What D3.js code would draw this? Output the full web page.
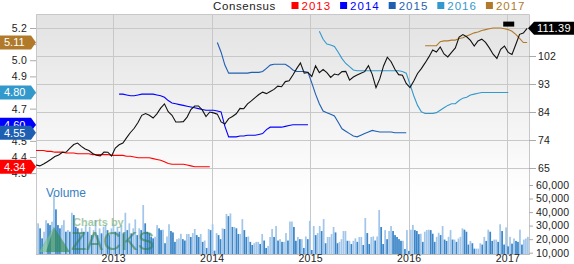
<!DOCTYPE html>
<html>
<head>
<meta charset="utf-8">
<script src="https://cdn.jsdelivr.net/npm/d3@7/dist/d3.min.js"></script>
<style>
  body { margin: 0; background: #fff; }
  svg text { font-family: "Liberation Sans", Arial, sans-serif; }
  .tick text { fill: #222; }
</style>
</head>
<body>
<div id="chart"></div>
<script>
// price + consensus EPS chart (5 years, biweekly samples)

// ---- data ----
var startDate = new Date(2012, 2, 21);
var endDate = new Date(2017, 2, 22);

// closing price, one value every two weeks from startDate
const price = [
  66.0, 65.7, 66.3, 67.1, 67.9, 68.8, 69.3, 70.2, 70.3, 71.6,
  72.8, 73.3, 72.2, 71.3, 70.8, 69.8, 69.25, 69.05, 70.3, 70.25,
  69.0, 71.6, 72.7, 73.3, 75.1, 76.8, 78.2, 80.1, 82.5, 83.1,
  82.5, 81.6, 83.0, 84.9, 86.3, 83.7, 82.5, 80.3, 80.3, 80.4,
  81.9, 84.4, 85.6, 85.6, 84.3, 82.1, 83.6, 83.3, 82.9, 80.3,
  79.6, 81.4, 82.1, 83.0, 84.8, 84.7, 86.3, 87.3, 88.4, 89.4,
  90.2, 89.7, 90.4, 91.1, 92.2, 92.0, 93.7, 94.0, 95.9, 98.0,
  99.9, 96.5, 96.7, 95.4, 98.9, 96.7, 97.7, 96.7, 95.1, 96.2,
  95.9, 97.0, 97.1, 94.2, 95.2, 95.9, 96.5, 97.0, 99.0, 96.1,
  91.7, 94.6, 98.9, 101.8, 100.3, 97.8, 96.0, 95.8, 93.1, 91.7,
  93.9, 96.4, 98.0, 99.9, 101.9, 104.2, 103.5, 105.2, 102.9, 101.9,
  103.4, 104.9, 108.5, 109.3, 108.6, 107.4, 105.5, 107.2, 107.8, 106.7,
  104.9, 102.8, 101.4, 104.4, 105.5, 103.4, 102.7, 106.0, 109.4, 109.8,
  111.39
];

// consensus EPS per fiscal year (same biweekly grid, starting at index *Start)
const eps2013Start = 0;
const eps2013 = [4.44, 4.44, 4.44, 4.435, 4.435, 4.43, 4.43, 4.43, 4.425, 4.425,
  4.425, 4.42, 4.42, 4.42, 4.42, 4.415, 4.415, 4.415, 4.415, 4.415,
  4.41, 4.41, 4.41, 4.41, 4.405, 4.405, 4.40, 4.395, 4.395, 4.395,
  4.395, 4.39, 4.385, 4.38, 4.37, 4.36, 4.355, 4.355, 4.355, 4.355,
  4.35, 4.345, 4.34, 4.34, 4.34, 4.34, 4.34];
const eps2014Start = 22;
const eps2014 = [4.79, 4.79, 4.785, 4.78, 4.78, 4.785, 4.79, 4.79, 4.79, 4.79,
  4.785, 4.78, 4.77, 4.75, 4.735, 4.73, 4.725, 4.72, 4.715, 4.71,
  4.705, 4.70, 4.695, 4.69, 4.69, 4.69, 4.685, 4.68, 4.59, 4.525,
  4.525, 4.525, 4.53, 4.53, 4.535, 4.535, 4.535, 4.54, 4.545, 4.57,
  4.585, 4.585, 4.585, 4.585, 4.59, 4.595, 4.60, 4.60, 4.60, 4.60, 4.60];
const eps2015Start = 48;
const eps2015 = [5.11, 5.05, 4.97, 4.92, 4.92, 4.92, 4.92, 4.92, 4.92, 4.925,
  4.925, 4.925, 4.93, 4.95, 4.97, 4.975, 4.975, 4.975, 4.975, 4.96,
  4.94, 4.93, 4.93, 4.93, 4.925, 4.86, 4.79, 4.73, 4.685, 4.675,
  4.665, 4.655, 4.615, 4.575, 4.56, 4.545, 4.53, 4.525, 4.535, 4.545,
  4.555, 4.565, 4.56, 4.555, 4.555, 4.555, 4.555, 4.55, 4.55, 4.55, 4.55];
const eps2016Start = 75;
const eps2016 = [5.18, 5.13, 5.10, 5.095, 5.085, 5.05, 5.01, 4.98, 4.96, 4.94,
  4.935, 4.935, 4.935, 4.935, 4.935, 4.935, 4.935, 4.935, 4.935, 4.935,
  4.935, 4.935, 4.93, 4.92, 4.85, 4.78, 4.72, 4.68, 4.67, 4.67,
  4.67, 4.675, 4.69, 4.705, 4.72, 4.73, 4.73, 4.75, 4.765, 4.77,
  4.785, 4.79, 4.795, 4.80, 4.80, 4.80, 4.80, 4.80, 4.80, 4.80, 4.80];
const eps2017Start = 103;
const eps2017 = [5.09, 5.09, 5.09, 5.09, 5.115, 5.12, 5.12, 5.125, 5.125, 5.135,
  5.14, 5.15, 5.16, 5.17, 5.175, 5.185, 5.19, 5.195, 5.20, 5.20,
  5.20, 5.195, 5.19, 5.18, 5.16, 5.135, 5.11, 5.11];

// weekly volume
const volume = [
  31700, 28000, 20600, 25500, 34000, 31700, 30400, 32900, 52600, 42000,
  30400, 28000, 30400, 34000, 25500, 26700, 25500, 39500, 37800, 29200,
  28000, 24300, 28000, 25500, 30400, 25500, 29200, 23000, 26700, 34000,
  23000, 28000, 24300, 29200, 30400, 26700, 23000, 28000, 31700, 25500,
  29200, 25500, 30400, 24300, 39500, 26700, 31700, 24300, 28000, 34600,
  23000, 28000, 26700, 45200, 31700, 25500, 24300, 21800, 20600, 21800,
  30400, 28000, 26700,
  27000, 17000, 22000, 31000, 26000, 25000, 18000, 20000, 20600, 24000,
  20000, 19000, 23800, 23800, 21600, 24500, 27500, 23000, 21600, 23800,
  18000, 19000, 13500, 27500, 26700, 31000, 11500, 24500, 23000, 20000,
  28000, 27500, 38600, 37000, 39000, 29000, 29000, 28000, 23800, 23800,
  34800, 26700, 21600, 22000, 18000, 15700, 17000, 18000, 18000, 16400,
  23800, 19000, 13500, 15000, 21600, 27500, 21600, 29700, 19000, 20000,
  18000, 18000, 24500,
  19000, 33000, 33000, 29000, 18800, 21600, 20000, 20000, 13500, 22000,
  20000, 33500, 12000, 29700, 23000, 24500, 29700, 26000, 34800, 17000,
  21600, 21600, 23800, 29000, 25000, 17000, 18000, 20000, 26000, 26000,
  18800, 18800, 16400, 18800, 20600, 18000, 21600, 21600, 15700, 35600,
  24500, 16400, 21600, 22000, 19000, 22000, 41500, 29000, 16400, 26700,
  20000, 26000, 29700, 26000, 23000, 21600, 20000, 18800, 18800, 12700,
  26700, 11300,
  27000, 30500, 26700, 26000, 23700, 24000, 18000, 25500, 26700, 27000,
  26700, 24000, 18000, 21700, 24700, 23000, 29700, 19700, 18700, 21700,
  26700, 19700, 19700, 18000, 20500, 21700, 28000, 27000, 25500, 16000,
  18700, 17000, 13000, 13000, 13000, 17000, 16000, 21700, 18700, 27000,
  25500, 18700, 19700, 19700, 18000, 31000, 26000, 16000, 28700, 14700,
  21700, 16700, 20500, 18700, 18000, 27000, 16000, 19700, 20500, 21700
];

const seriesNames = ["2013", "2014", "2015", "2016", "2017"];
const priceGrid = [65, 74.3, 83.6, 92.9, 102.2, 111.5];
const priceTicks = [65, 74.3, 83.6, 92.9, 102.2];   // top one sits under the price tag
const epsTicks = [4.3, 4.4, 4.5, 4.6, 4.7, 4.8, 4.9, 5.0, 5.1, 5.2];
const volumeTicks = [10000, 20000, 30000, 40000, 50000, 60000];
const eventMarks = [{ date: new Date(2017, 0, 4), price: 112.8 }];

// ---- layout ----
var customColors = {
  "2013": "#ff0000",
  "2014": "#0000ff",
  "2015": "#1f5fb2",
  "2016": "#3399cc",
  "2017": "#b07a2a"
};

const width = 574, height = 264;
var plot = { left: 36, right: 529, top: 14, bottom: 254 };

const svg = d3.select("#chart")
  .append("svg")
  .attr("width", width)
  .attr("height", height);

var x = d3.scaleTime().domain([startDate, endDate]).range([plot.left, plot.right]);
var yPrice = d3.scaleLinear().domain([65, 111.5]).range([168, 28]);
var yEps = d3.scaleLinear().domain([4.4, 5.2]).range([157, 28]);
var yVol = d3.scaleLinear().domain([10000, 60000]).range([252.7, 185]);

function gridDate(i) { return d3.timeDay.offset(startDate, 14 * i); }

// background gradient
var defs = svg.append("defs");
var grad = defs.append("linearGradient")
  .attr("id", "bg").attr("x1", 0).attr("y1", 0).attr("x2", 0).attr("y2", 1);
grad.append("stop").attr("offset", "0%").attr("stop-color", "#e2e2e2");
grad.append("stop").attr("offset", "75%").attr("stop-color", "#ffffff");

svg.append("rect")
  .attr("x", plot.left).attr("y", plot.top)
  .attr("width", plot.right - plot.left)
  .attr("height", plot.bottom - plot.top)
  .style("fill", "url(#bg)");

// grid lines
svg.append("g")
  .selectAll("line")
  .data(priceGrid)
  .enter().append("line")
    .attr("x1", plot.left).attr("x2", plot.right + 7)
    .attr("y1", d => Math.round(yPrice(d)) + 0.5)
    .attr("y2", d => Math.round(yPrice(d)) + 0.5)
    .style("stroke", "#c8c8c8");

svg.append("g")
  .selectAll("line")
  .data(x.ticks(d3.timeYear))
  .enter().append("line")
    .attr("x1", d => Math.round(x(d)) + 0.5)
    .attr("x2", d => Math.round(x(d)) + 0.5)
    .attr("y1", plot.top).attr("y2", plot.bottom)
    .style("stroke", "#c8c8c8");

// frame
svg.append("path")
  .attr("d", "M" + (plot.left + 0.5) + "," + plot.bottom + "V" + (plot.top + 0.5) +
    "H" + (plot.right + 0.5) + "V" + plot.bottom)
  .style("fill", "none")
  .style("stroke", "#c8c8c8");
svg.append("line")
  .attr("x1", plot.left).attr("x2", plot.right + 1)
  .attr("y1", plot.bottom + 0.5).attr("y2", plot.bottom + 0.5)
  .style("stroke", "#bdbdbd");

// volume bars
var xBand = d3.scaleBand()
  .domain(d3.range(volume.length))
  .range([plot.left + 1, plot.right])
  .padding(0.12);

svg.append("g")
  .selectAll("rect")
  .data(volume)
  .enter().append("rect")
    .attr("x", (d, i) => xBand(i))
    .attr("width", xBand.bandwidth())
    .attr("y", d => yVol(d))
    .attr("height", d => plot.bottom - yVol(d))
    .style("fill", (d, i) => (i > 0 && d < volume[i - 1]) ? "#3c86c8" : "#a3c7ea");

svg.append("text")
  .attr("x", 46).attr("y", 197)
  .style("font-size", "12px")
  .style("fill", "#3a7fc1")
  .text("Volume");

// watermark
var wm = svg.append("g").style("opacity", 0.6);
wm.append("path")
  .attr("d", "M54,227 L39,252 L70,252 Z")
  .style("fill", "#2e8b4a");
wm.append("path")
  .attr("d", "M54,227 L46,252 L39,252 Z")
  .style("fill", "#7cc48a");
wm.append("text")
  .attr("x", 73).attr("y", 226)
  .style("font-size", "11px")
  .style("font-weight", "bold")
  .style("fill", "#6aa86e")
  .text("Charts by");
wm.append("text")
  .attr("x", 71).attr("y", 250)
  .style("font-size", "25px")
  .style("fill", "#2f7f4f")
  .text("ZACKS");

// consensus lines
var epsLine = d3.line()
  .x(d => x(d.date))
  .y(d => yEps(d.value));

var epsSeries = [
  { name: "2013", start: eps2013Start, values: eps2013 },
  { name: "2014", start: eps2014Start, values: eps2014 },
  { name: "2015", start: eps2015Start, values: eps2015 },
  { name: "2016", start: eps2016Start, values: eps2016 },
  { name: "2017", start: eps2017Start, values: eps2017 }
];
epsSeries.forEach(function(s) {
  s.points = s.values.map((v, i) => ({ date: gridDate(s.start + i), value: v }));
});

svg.append("g")
  .selectAll("path")
  .data(epsSeries)
  .enter().append("path")
    .attr("d", d => epsLine(d.points))
    .style("fill", "none")
    .style("stroke", d => customColors[d.name])
    .style("stroke-width", 1.1);

// price line
var priceLine = d3.line()
  .x((d, i) => x(gridDate(i)))
  .y(d => yPrice(d));

svg.append("path")
  .datum(price)
  .attr("d", priceLine)
  .style("fill", "none")
  .style("stroke", "#111")
  .style("stroke-width", 1.1);

// event marker
svg.append("g")
  .selectAll("rect")
  .data(eventMarks)
  .enter().append("rect")
    .attr("x", d => x(d.date) - 5)
    .attr("y", d => yPrice(d.price) - 2.5)
    .attr("width", 11).attr("height", 5)
    .style("fill", "#000");

// axes
var leftAxis = svg.append("g")
  .attr("transform", "translate(" + plot.left + ",0)")
  .call(d3.axisLeft(yEps).tickValues(epsTicks).tickFormat(d3.format(".1f"))
    .tickSize(6).tickPadding(3));
var rightAxis = svg.append("g")
  .attr("transform", "translate(" + plot.right + ",0)")
  .call(d3.axisRight(yPrice).tickValues(priceTicks).tickFormat(d3.format(".0f"))
    .tickSize(7).tickPadding(2));
var volAxis = svg.append("g")
  .attr("transform", "translate(" + plot.right + ",0)")
  .call(d3.axisRight(yVol).tickValues(volumeTicks).tickFormat(d3.format(","))
    .tickSize(4).tickPadding(3));
var bottomAxis = svg.append("g")
  .attr("transform", "translate(0," + plot.bottom + ")")
  .call(d3.axisBottom(x).ticks(d3.timeYear).tickFormat(d3.timeFormat("%Y"))
    .tickSize(0).tickPadding(1));

[leftAxis, rightAxis, volAxis, bottomAxis].forEach(function(a) {
  a.select(".domain").remove();
  a.selectAll(".tick line").style("stroke", "#aaa");
  a.selectAll("text")
    .style("font-size", "10.5px")
    .style("font-family", "'Liberation Sans', Arial, sans-serif")
    .style("letter-spacing", "0.2px");
});

// last-value labels on the left (consensus)
var tags = svg.append("g")
  .selectAll("g")
  .data(epsSeries)
  .enter().append("g")
    .attr("transform", d => "translate(0," + yEps(d.values[d.values.length - 1]) + ")");
tags.append("path")
  .attr("d", "M0,-7H31L36,0L31,7H0Z")
  .style("fill", d => customColors[d.name]);
tags.append("text")
  .attr("x", 4).attr("dy", "0.36em")
  .style("font-size", "11px")
  .style("fill", "#fff")
  .text(d => d3.format(".2f")(d.values[d.values.length - 1]));

// last price label on the right
var lastPrice = price[price.length - 1];
var ptag = svg.append("g")
  .attr("transform", "translate(0," + yPrice(lastPrice) + ")");
ptag.append("path")
  .attr("d", "M" + (plot.right - 1) + ",0L534,-6.5H574V6.5H534Z")
  .style("fill", "#000");
ptag.append("text")
  .attr("x", 537).attr("dy", "0.36em")
  .style("font-size", "11px")
  .style("letter-spacing", "0.3px")
  .style("fill", "#fff")
  .text(d3.format(".2f")(lastPrice));

// legend
var legend = svg.append("g").attr("class", "legend");
legend.append("text")
  .attr("x", 213).attr("y", 10)
  .style("font-size", "11.5px")
  .style("letter-spacing", "0.6px")
  .style("fill", "#222")
  .text("Consensus");

const item = legend.selectAll(".item")
  .data(seriesNames)
  .enter().append("g")
    .attr("class", "item")
    .attr("transform", (d, i) => "translate(" + (291.5 + i * 48.6) + ",0)");
item.append("rect")
  .attr("x", 0).attr("y", 2)
  .attr("width", 7).attr("height", 7)
  .style("fill", d => customColors[d]);
item.append("text")
  .attr("x", 10).attr("y", 10)
  .style("font-size", "11.5px")
  .style("letter-spacing", "1px")
  .style("fill", d => customColors[d])
  .text(d => d);
</script>
</body>
</html>
